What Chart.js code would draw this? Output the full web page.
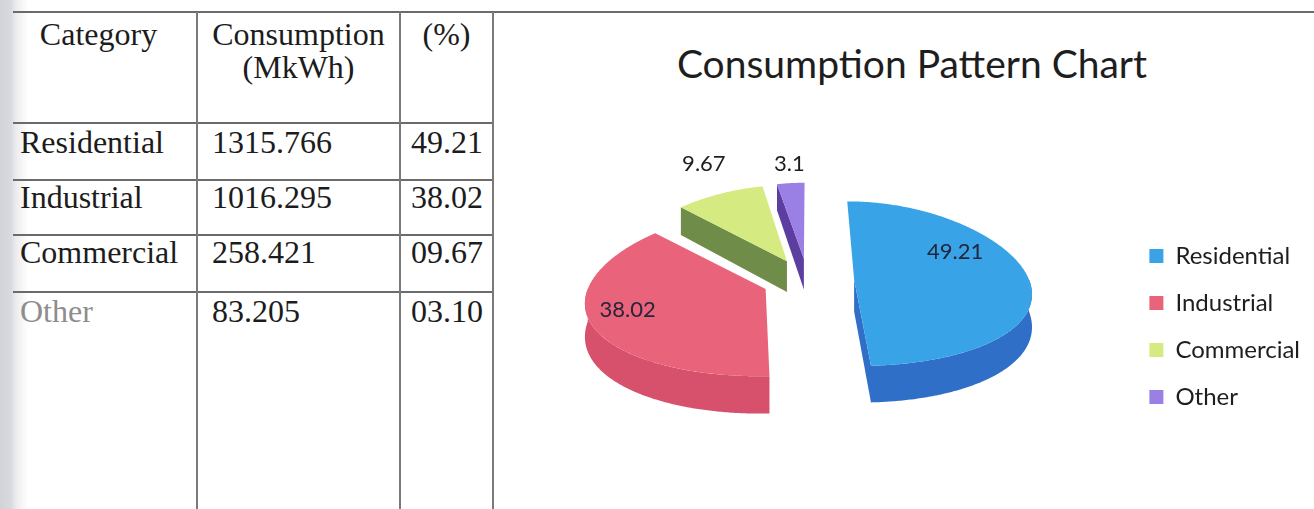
<!DOCTYPE html>
<html>
<head>
<meta charset="utf-8">
<title>Consumption Pattern</title>
<script src="https://cdn.jsdelivr.net/npm/chart.js@4.4.1/dist/chart.umd.min.js"></script>
<style>
  html, body { margin: 0; padding: 0; background: #fff; width: 1314px; height: 509px; overflow: hidden; }
  #page { position: relative; width: 1314px; height: 509px; }
  .shade { position: absolute; left: 0; top: 0; width: 28px; height: 509px;
           background: linear-gradient(to right, #d2d3d9 0, #d9dadf 11px, #ececef 16px, #ffffff 28px); }
  .hl { position: absolute; height: 2px; background: #6b6b6b; }
  .vl { position: absolute; width: 2px; background: #7a7a7a; }
  .cell { position: absolute; font-family: "Liberation Serif", "Times New Roman", serif; font-size: 32px;
          line-height: 32px; color: #1c1c1c; white-space: nowrap; }
  #heading { position: absolute; left: 562px; width: 700px; top: 44px; text-align: center;
             font-family: Lato, "Open Sans", sans-serif; font-size: 39px; line-height: 39px; color: #1e1e1e; }
  #chartBox { position: absolute; left: 486px; top: 13px; width: 828px; height: 496px; }
</style>
</head>
<body>
<div id="page">
  <div class="shade"></div>
  <div class="hl" style="left:13px; top:11px; width:1301px;"></div>
  <div class="hl" style="left:13px; top:122px; width:480px;"></div>
  <div class="hl" style="left:13px; top:179px; width:480px;"></div>
  <div class="hl" style="left:13px; top:234px; width:480px;"></div>
  <div class="hl" style="left:13px; top:291px; width:480px;"></div>
  <div class="vl" style="left:196px; top:12px; height:497px;"></div>
  <div class="vl" style="left:399px; top:12px; height:497px;"></div>
  <div class="vl" style="left:492px; top:12px; height:497px;"></div>
  <div id="table"></div>
  <div id="heading">Consumption Pattern Chart</div>
  <div id="chartBox"><canvas id="pie" width="828" height="496"></canvas></div>
</div>
<script>
// ---- data ----
const categories = ['Residential', 'Industrial', 'Commercial', 'Other'];
const consumptionMkWh = ['1315.766', '1016.295', '258.421', '83.205'];
const shareColumn = ['49.21', '38.02', '09.67', '03.10'];
const shareValues = [49.21, 38.02, 9.67, 3.1];
const headerLines = [['Category'], ['Consumption', '(MkWh)'], ['(%)']];

// ---- table ----
const colEdges = [0, 197, 400, 493];
const bodyX = [20, 212, 411];
const headBaselines = [45, 78];
const rowBaselines = [153, 208, 263, 322];
const tableEl = document.getElementById('table');

function addCell(text, baseline, left, width, color) {
  const d = document.createElement('div');
  d.className = 'cell';
  d.textContent = text;
  d.style.top = (baseline - 27) + 'px';
  d.style.left = left + 'px';
  if (width) { d.style.width = width + 'px'; d.style.textAlign = 'center'; }
  if (color) d.style.color = color;
  tableEl.appendChild(d);
}

headerLines.forEach((lines, c) => {
  lines.forEach((line, j) => addCell(line, headBaselines[j], colEdges[c], colEdges[c + 1] - colEdges[c]));
});
categories.forEach((cat, r) => {
  const faded = cat === 'Other' ? '#8d8d8d' : null;
  addCell(cat, rowBaselines[r], bodyX[0], 0, faded);
  addCell(consumptionMkWh[r], rowBaselines[r], bodyX[1]);
  addCell(shareColumn[r], rowBaselines[r], bodyX[2]);
});

// ---- chart ----
const faceColors = ['#39a3e8', '#e9637b', '#d5ea80', '#9a80e4'];
const sideColors = ['#2f6fc7', '#d7516c', '#6f8c49', '#5b3e9f'];

// Draws the pie as a tilted, exploded disc with side walls, using the
// geometry Chart.js computed for each arc element.
const tiltedPie = {
  id: 'tiltedPie',
  beforeDatasetDraw() { return false; },
  afterDatasetsDraw(chart, args, o) {
    const meta = chart.getDatasetMeta(0);
    const ctx = chart.ctx;
    const values = chart.data.datasets[0].data;

    const proj = (cx, cy, R, X, Y, Z) => {
      const f = 1 + o.perspective * Y / R;
      const g = 1 + o.squash * Y / R;
      return [cx + X * f, cy + o.tilt * Y * g + Z * f];
    };

    const slices = meta.data.map((arc, i) => {
      const mid = (arc.startAngle + arc.endAngle) / 2;
      const off = arc.options.offset || 0;
      return { i, arc, mid, ox: off * Math.cos(mid), oy: off * Math.sin(mid) };
    });

    const rimPath = (s, a0, a1, Z, forward) => {
      const pts = [];
      const n = Math.max(2, Math.ceil(Math.abs(a1 - a0) / 0.01));
      for (let k = 0; k <= n; k++) {
        const t = forward ? k / n : 1 - k / n;
        const a = a0 + (a1 - a0) * t;
        pts.push(proj(s.arc.x, s.arc.y, s.arc.outerRadius,
          s.ox + s.arc.outerRadius * Math.cos(a), s.oy + s.arc.outerRadius * Math.sin(a), Z));
      }
      return pts;
    };

    const fillPoly = (pts, color) => {
      ctx.beginPath();
      pts.forEach((p, k) => (k ? ctx.lineTo(p[0], p[1]) : ctx.moveTo(p[0], p[1])));
      ctx.closePath();
      ctx.fillStyle = color;
      ctx.fill();
    };

    const radialFace = (s, a, color) => {
      const R = s.arc.outerRadius, cx = s.arc.x, cy = s.arc.y;
      const rx = s.ox + R * Math.cos(a), ry = s.oy + R * Math.sin(a);
      fillPoly([
        proj(cx, cy, R, s.ox, s.oy, 0),
        proj(cx, cy, R, rx, ry, 0),
        proj(cx, cy, R, rx, ry, o.depth),
        proj(cx, cy, R, s.ox, s.oy, o.depth)
      ], color);
    };

    ctx.save();
    slices.slice().sort((a, b) => a.oy - b.oy).forEach(s => {
      const { arc } = s;
      const a0 = arc.startAngle, a1 = arc.endAngle;
      const side = o.sideColors[s.i];
      if (Math.cos(a0) < 0) radialFace(s, a0, side);
      if (Math.cos(a1) > 0) radialFace(s, a1, side);
      const b0 = Math.max(a0, 0), b1 = Math.min(a1, Math.PI);
      if (b1 > b0) {
        fillPoly(rimPath(s, b0, b1, 0, true).concat(rimPath(s, b0, b1, o.depth, false)), side);
      }
      const c = proj(arc.x, arc.y, arc.outerRadius, s.ox, s.oy, 0);
      fillPoly([c].concat(rimPath(s, a0, a1, 0, true)), arc.options.backgroundColor);
    });

    // value labels
    ctx.font = o.labelFont;
    ctx.textAlign = 'center';
    ctx.textBaseline = 'middle';
    slices.forEach(s => {
      const spot = o.labelSpots[s.i];
      const R = s.arc.outerRadius;
      const X = s.ox + spot.r * R * Math.cos(s.mid);
      const Y = s.oy + spot.r * R * Math.sin(s.mid);
      const p = proj(s.arc.x, s.arc.y, R, X, Y, 0);
      ctx.fillStyle = spot.r < 1 ? o.innerLabelColor : o.outerLabelColor;
      ctx.fillText(String(values[s.i]), p[0], p[1] + spot.lift);
    });
    ctx.restore();
  }
};

new Chart(document.getElementById('pie'), {
  type: 'pie',
  data: {
    labels: categories,
    datasets: [{
      data: shareValues,
      backgroundColor: faceColors,
      borderWidth: 0,
      offset: 46,
      hoverOffset: 0,
      radius: 175,
      clip: false
    }]
  },
  options: {
    responsive: false,
    animation: false,
    events: [],
    layout: { autoPadding: false, padding: { left: 4, right: 4, top: 115, bottom: 77 } },
    plugins: {
      title: { display: false },
      tooltip: { enabled: false },
      legend: {
        position: 'right',
        align: 'end',
        labels: {
          boxWidth: 14,
          boxHeight: 14,
          padding: 23,
          color: '#1e1e1e',
          font: { family: 'Lato', size: 24 }
        }
      },
      tiltedPie: {
        tilt: 0.47,
        squash: 0.05,
        perspective: 0.15,
        depth: 32,
        sideColors: sideColors,
        labelFont: '22px Lato',
        innerLabelColor: '#24263a',
        outerLabelColor: '#1e1e1e',
        labelSpots: [
          { r: 0.58, lift: -26 },
          { r: 0.80, lift: -7 },
          { r: 1.31, lift: -10 },
          { r: 1.14, lift: -9 }
        ]
      }
    }
  },
  plugins: [tiltedPie]
});
</script>
</body>
</html>
